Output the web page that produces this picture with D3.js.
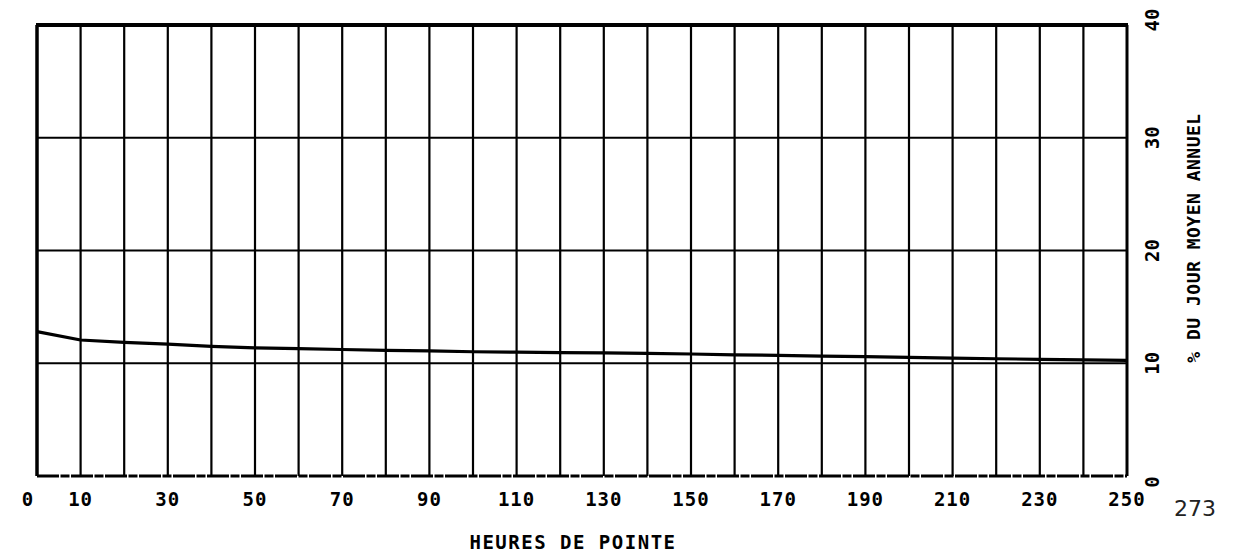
<!DOCTYPE html>
<html>
<head>
<meta charset="utf-8">
<script src="https://cdn.jsdelivr.net/npm/d3@7"></script>
<style>
  html, body { margin: 0; padding: 0; background: #fff; }
  svg { display: block; }
</style>
</head>
<body>
<svg id="chart" width="1243" height="553"></svg>
<script>
// ---- data ----
const hours = [0, 10, 20, 30, 40, 50, 60, 70, 80, 90, 100, 110, 120, 130, 140, 150, 160, 170, 180, 190, 200, 210, 220, 230, 240, 250];
const pctValues = [12.8, 12.06, 11.86, 11.7, 11.5, 11.36, 11.3, 11.22, 11.15, 11.09, 11.02, 10.98, 10.95, 10.92, 10.87, 10.82, 10.74, 10.7, 10.64, 10.58, 10.52, 10.46, 10.4, 10.35, 10.3, 10.26];
const xTickLabels = [0, 10, 30, 50, 70, 90, 110, 130, 150, 170, 190, 210, 230, 250];
const xGrid = d3.range(10, 250, 10);
const yTickLabels = [0, 10, 20, 30, 40];
const yGrid = [10, 20, 30];
const xTitle = "HEURES DE POINTE";
const yTitle = "% DU JOUR MOYEN ANNUEL";
const pageNumber = "273";

// ---- layout ----
const svg = d3.select("#chart");
const L = 37, R = 1127, T = 25, B = 476;
const x = d3.scaleLinear().domain([0, 250]).range([L, R]);
const y = d3.scaleLinear().domain([0, 40]).range([B, T]);
const ink = "#000";
const font = "'DejaVu Sans Mono', 'Liberation Mono', monospace";

// vertical grid lines
svg.append("g").selectAll("line").data(xGrid).join("line")
  .attr("x1", d => x(d)).attr("x2", d => x(d))
  .attr("y1", T).attr("y2", B)
  .attr("stroke", ink).attr("stroke-width", 2.2);

// horizontal grid lines
svg.append("g").selectAll("line").data(yGrid).join("line")
  .attr("x1", L).attr("x2", R)
  .attr("y1", d => y(d)).attr("y2", d => y(d))
  .attr("stroke", ink).attr("stroke-width", 2.2);

// frame
svg.append("line").attr("x1", L - 1).attr("x2", R + 1).attr("y1", T).attr("y2", T)
  .attr("stroke", ink).attr("stroke-width", 4);
svg.append("line").attr("x1", L).attr("x2", L).attr("y1", T).attr("y2", B)
  .attr("stroke", ink).attr("stroke-width", 3.5);
svg.append("line").attr("x1", R).attr("x2", R).attr("y1", T).attr("y2", B)
  .attr("stroke", ink).attr("stroke-width", 3);
svg.append("line").attr("x1", L).attr("x2", R).attr("y1", B).attr("y2", B)
  .attr("stroke", ink).attr("stroke-width", 3).attr("stroke-dasharray", "22 1.5 9 1.5");

// curve
const line = d3.line().x((d, i) => x(hours[i])).y(d => y(d));
svg.append("path").datum(pctValues)
  .attr("d", line).attr("fill", "none")
  .attr("stroke", ink).attr("stroke-width", 3.2).attr("stroke-linejoin", "round");

// x tick labels
svg.append("g").selectAll("text").data(xTickLabels).join("text")
  .attr("x", d => x(d) + (d === 0 ? -9 : 0)).attr("y", 506)
  .attr("text-anchor", "middle")
  .attr("font-family", font).attr("font-weight", "bold").attr("font-size", 19)
  .attr("letter-spacing", 1)
  .attr("fill", ink).text(d => d);

// right y tick labels (rotated)
svg.append("g").selectAll("text").data(yTickLabels).join("text")
  .attr("transform", d => `translate(1159, ${y(d) + (d === 0 ? 6 : 0) + (d === 40 ? -5 : 0)}) rotate(-90)`)
  .attr("text-anchor", "middle")
  .attr("font-family", font).attr("font-weight", "bold").attr("font-size", 19)
  .attr("fill", ink).text(d => d);

// y title
svg.append("text")
  .attr("transform", "translate(1200, 238) rotate(-90)")
  .attr("text-anchor", "middle")
  .attr("font-family", font).attr("font-weight", "bold").attr("font-size", 18)
  .attr("letter-spacing", 0.5)
  .attr("fill", ink).text(yTitle);

// x title
svg.append("text")
  .attr("x", 573).attr("y", 549)
  .attr("text-anchor", "middle")
  .attr("font-family", font).attr("font-weight", "bold").attr("font-size", 19)
  .attr("letter-spacing", 1.5)
  .attr("fill", ink).text(xTitle);

// page number
svg.append("text")
  .attr("x", 1195).attr("y", 516)
  .attr("text-anchor", "middle")
  .attr("font-family", "'DejaVu Sans', sans-serif").attr("font-size", 22)
  .attr("fill", "#222").text(pageNumber);
</script>
</body>
</html>
